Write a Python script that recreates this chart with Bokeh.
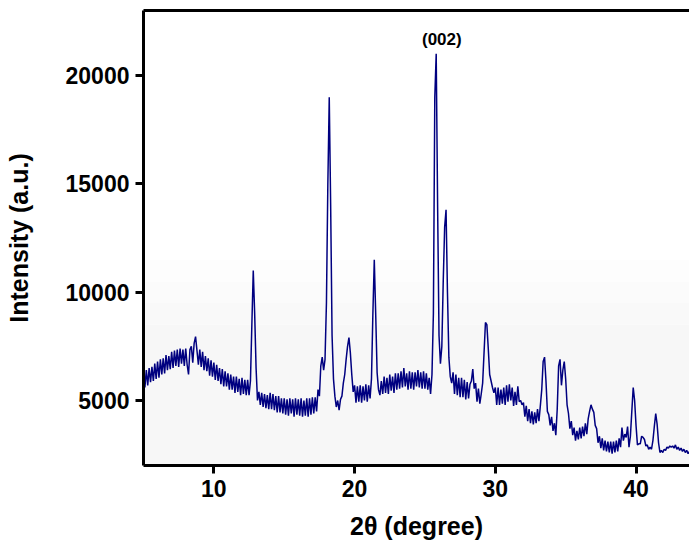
import numpy as np
from bokeh.plotting import figure
from bokeh.models import (LinearAxis, FixedTicker, BoxAnnotation, Range1d,
                          ColumnDataSource)
from bokeh.core.properties import value
from bokeh.embed import file_html
from bokeh.resources import INLINE

# ---------------- data ----------------
# 2-theta sampling grid: 5.0 .. 44.4 deg, step 0.1 deg
two_theta_start = 5.0
two_theta_stop = 44.4
two_theta_step = 0.1

# intensity (a.u.), one row per degree (x.0 .. x.9)
intensity = [
    # 5
    6250, 5600, 6400, 5700, 6500, 5850, 6550, 5900, 6700, 6000,
    # 6
    6800, 6050, 6900, 6200, 6950, 6250, 7100, 6400, 7050, 6450,
    # 7
    7250, 6500, 7300, 6600, 7350, 6550, 7400, 6700, 7350, 6600,
    # 8
    7400, 6650, 6200, 7350, 7500, 6750, 7650, 7950, 7300, 6650,
    # 9
    7350, 6550, 7250, 6400, 7050, 6350, 6950, 6150, 6850, 6100,
    # 10
    6750, 5950, 6650, 5900, 6500, 5750, 6450, 5650, 6350, 5650,
    # 11
    6250, 5500, 6200, 5500, 6100, 5350, 6100, 5400, 6000, 5250,
    # 12
    6050, 5300, 5950, 5250, 5950, 5250, 5900, 8500, 11000, 9000,
    # 13
    6500, 5000, 5400, 4800, 5350, 4700, 5300, 4650, 5250, 4600,
    # 14
    5350, 4600, 5300, 4550, 5200, 4450, 5200, 4450, 5100, 4400,
    # 15
    5100, 4350, 5050, 4300, 5100, 4400, 5050, 4250, 5100, 4350,
    # 16
    5050, 4300, 5100, 4250, 5000, 4300, 5100, 4250, 5100, 4350,
    # 17
    5150, 4400, 5150, 4500, 5500, 5200, 6600, 7000, 6400, 6900,
    # 18
    9500, 15000, 19000, 14000, 8000, 6000, 5200, 4700, 5000, 4550,
    # 19
    5050, 5200, 5800, 6200, 6900, 7500, 7900, 7200, 6200, 5400,
    # 20
    5700, 4900, 5650, 4950, 5700, 4900, 5650, 5000, 5750, 4950,
    # 21
    5700, 5100, 6000, 9000, 11500, 9000, 6300, 5500, 5250, 5900,
    # 22
    5300, 6100, 5350, 6050, 5300, 6200, 5450, 6100, 5350, 6250,
    # 23
    5500, 6250, 5550, 6350, 5600, 6500, 5650, 6250, 5500, 6350,
    # 24
    5550, 6300, 5500, 6300, 5650, 6400, 5600, 6300, 5550, 6350,
    # 25
    5550, 6250, 5500, 6050, 5300, 6200, 9000, 19000, 21000, 14000,
    # 26
    8000, 6700, 7500, 10500, 13000, 13800, 10000, 7000, 6100, 5800,
    # 27
    6300, 5300, 6200, 5250, 6050, 5150, 6050, 5150, 5950, 5050,
    # 28
    5850, 5100, 5750, 5900, 6450, 5550, 5800, 4950, 5550, 4850,
    # 29
    5300, 5800, 7200, 8600, 8500, 7400, 6200, 5900, 5600, 5350,
    # 30
    5600, 4800, 5600, 4800, 5500, 4850, 5600, 4800, 5700, 4950,
    # 31
    5750, 5000, 5600, 4750, 5400, 4800, 5650, 4950, 5000, 4800,
    # 32
    4900, 4250, 4750, 4050, 4600, 3950, 4500, 3900, 4450, 3950,
    # 33
    4600, 4050, 4750, 5500, 6800, 7000, 5900, 4500, 4350, 3850,
    # 34
    4250, 3600, 3950, 3400, 4600, 6600, 6900, 5700, 6400, 6800,
    # 35
    6000, 4800, 4400, 3700, 4050, 3400, 3750, 3150, 3600, 3200,
    # 36
    3750, 3250, 3800, 3350, 3950, 3450, 4150, 4500, 4800, 4600,
    # 37
    4450, 3850, 3700, 3050, 3350, 2800, 3250, 2700, 3150, 2650,
    # 38
    3100, 2600, 3100, 2550, 3100, 2600, 3150, 2650, 3250, 2850,
    # 39
    3750, 3150, 3450, 3300, 3800, 2850, 3350, 4500, 5600, 5000,
    # 40
    3850, 2950, 3000, 3000, 3350, 3300, 3200, 2900, 2950, 2750,
    # 41
    2850, 2750, 3150, 3800, 4400, 3900, 3050, 2600, 2700, 2600,
    # 42
    2750, 2700, 2850, 2800, 2900, 2850, 2900, 2800, 2950, 2750,
    # 43
    2850, 2700, 2800, 2650, 2750, 2600, 2700, 2550, 2650, 2500,
    # 44
    2550, 2400, 2500, 2350, 2450,
]

x_ticks = [10, 20, 30, 40]
y_ticks = [5000, 10000, 15000, 20000]

peak_labels = ["(002)"]
peak_label_x = [26.2]
peak_label_y = [21650]

x_title = "2\u03b8 (degree)"
y_title = "Intensity (a.u.)"

# ---------------- build ----------------
two_theta = np.round(np.arange(two_theta_start, two_theta_stop + two_theta_step / 2,
                               two_theta_step), 1)
assert len(two_theta) == len(intensity)

FONT = "Liberation Sans"

p = figure(width=689, height=542, output_backend="svg", toolbar_location=None,
           x_range=Range1d(5, 43.8), y_range=Range1d(2000, 23000),
           x_axis_label=x_title, y_axis_label=y_title,
           min_border_left=143, min_border_right=0, min_border_top=10,
           min_border_bottom=1)

p.background_fill_color = "white"
p.border_fill_color = "white"
p.outline_line_color = None
p.xgrid.grid_line_color = None
p.ygrid.grid_line_color = None

# subtle vertical shading of the plotting area (lighter grey toward the bottom)
for lo, hi, col in [(2000, 8500, "#f7f7f7"), (8500, 9500, "#f9f9f9"),
                    (9500, 10500, "#fbfbfb"), (10500, 11500, "#fdfdfd")]:
    p.add_layout(BoxAnnotation(bottom=lo, top=hi, fill_color=col, fill_alpha=1.0,
                               line_color=None, level="underlay"))

src = ColumnDataSource(dict(x=two_theta, y=intensity))
p.line("x", "y", source=src, line_color="#000080", line_width=1.5)

p.text(x=peak_label_x, y=peak_label_y, text=peak_labels,
       text_font=value(FONT), text_font_style="bold", text_font_size="17px",
       text_align="center", text_baseline="middle", text_color="black")

for ax in (p.xaxis[0], p.yaxis[0]):
    ax.axis_line_width = 3
    ax.axis_line_color = "black"
    ax.major_tick_line_width = 3
    ax.major_tick_line_color = "black"
    ax.major_tick_out = 8
    ax.major_tick_in = 0
    ax.minor_tick_line_color = None
    ax.major_label_text_font = FONT
    ax.major_label_text_font_style = "bold"
    ax.major_label_text_font_size = "23px"
    ax.major_label_text_color = "black"
    ax.axis_label_text_font = FONT
    ax.axis_label_text_font_style = "bold"
    ax.axis_label_text_font_size = "25px"
    ax.axis_label_text_color = "black"
    ax.major_label_standoff = 6

p.xaxis[0].ticker = FixedTicker(ticks=x_ticks)
p.yaxis[0].ticker = FixedTicker(ticks=y_ticks)
p.xaxis[0].axis_label_standoff = 12
p.yaxis[0].axis_label_standoff = 30

top = LinearAxis(ticker=FixedTicker(ticks=[]), axis_line_width=3,
                 axis_line_color="black", major_tick_line_color=None,
                 minor_tick_line_color=None, major_label_text_font_size="0px",
                 major_label_standoff=0)
p.add_layout(top, "above")

open("out.html", "w").write(file_html(p, INLINE))
